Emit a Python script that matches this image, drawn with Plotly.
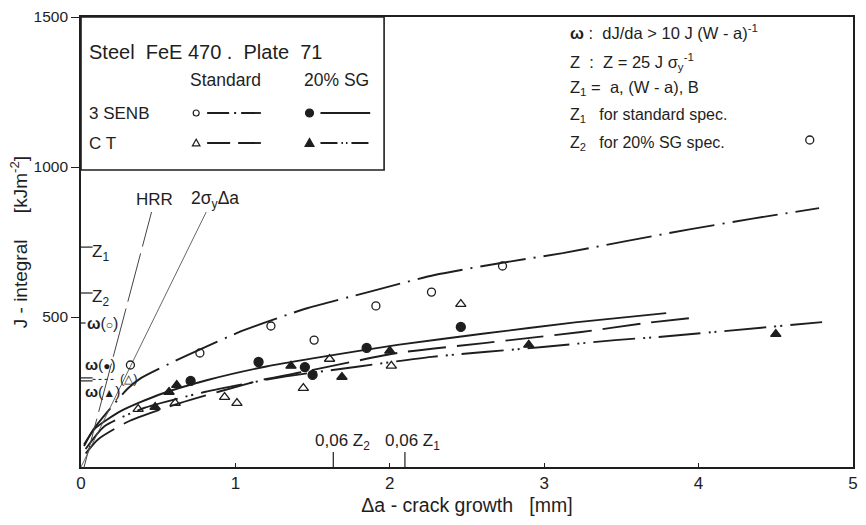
import plotly.graph_objects as go

# ---------------- data ----------------
senb_std_x = [0.32, 0.77, 1.23, 1.51, 1.91, 2.27, 2.73, 4.72]
senb_std_J = [340, 380, 470, 423, 537, 583, 670, 1090]
senb_sg_x = [0.71, 1.15, 1.45, 1.50, 1.85, 2.46]
senb_sg_J = [287, 350, 333, 307, 397, 467]
ct_std_x = [0.37, 0.61, 0.93, 1.01, 1.44, 1.61, 2.01, 2.46]
ct_std_J = [193, 213, 233, 213, 263, 360, 337, 543]
ct_sg_x = [0.48, 0.57, 0.62, 1.36, 1.69, 2.00, 2.90, 4.50]
ct_sg_J = [200, 250, 273, 337, 300, 387, 407, 443]

# fitted resistance curves
fit_senb_std_x = [0.02, 0.08, 0.30, 0.39, 0.69, 1.06, 1.47, 1.86, 2.29, 2.72, 3.12, 3.53, 3.95, 4.34, 4.78]
fit_senb_std_J = [70, 125, 260, 297, 373, 457, 530, 583, 640, 680, 713, 753, 793, 827, 863]
fit_senb_sg_x = [0.02, 0.09, 0.26, 0.50, 0.82, 1.20, 1.50, 2.05, 2.60, 3.20, 3.79]
fit_senb_sg_J = [75, 128, 187, 240, 290, 335, 362, 407, 444, 482, 513]
fit_ct_std_x = [0.03, 0.11, 0.30, 0.64, 1.17, 1.44, 2.05, 2.61, 3.24, 3.66, 3.96]
fit_ct_std_J = [45, 92, 150, 213, 290, 317, 380, 413, 450, 480, 497]
fit_ct_sg_x = [0.03, 0.15, 0.40, 0.80, 1.30, 1.80, 2.27, 2.99, 3.46, 3.73, 4.80]
fit_ct_sg_J = [60, 135, 195, 250, 300, 335, 367, 400, 423, 433, 483]

# blunting lines
hrr_x = [0.02, 0.457]
hrr_J = [0, 850]
blunt_x = [0.0, 0.811]
blunt_J = [0, 850]

# reference levels
z1_J = 733
z2_J = 580
omega_o_J = 480
omega_dot_J = 297
omega_tri_J = 292
omega_tri_f_J = 287
z2_006_x = 1.634
z1_006_x = 2.098

x_ticks = [0, 1, 2, 3, 4, 5]
y_ticks = [500, 1000, 1500]

FONT = "Liberation Sans, Arial, sans-serif"
INK = "#1e1e1e"
LW = 1.9

fig = go.Figure()

def curve(x, y, dash, w=LW, color=INK):
    fig.add_trace(go.Scatter(x=x, y=y, mode="lines", line=dict(color=color, width=w, dash=dash, shape="spline", smoothing=0.6),
                             showlegend=False, hoverinfo="skip"))

curve(fit_senb_std_x, fit_senb_std_J, "46px,8px,2px,8px")
curve(fit_senb_sg_x, fit_senb_sg_J, "solid")
curve(fit_ct_std_x, fit_ct_std_J, "38px,11px")
curve(fit_ct_sg_x, fit_ct_sg_J, "42px,8px,2px,4px,2px,8px")

fig.add_trace(go.Scatter(x=hrr_x, y=hrr_J, mode="lines", line=dict(color="#444", width=1, dash="50px,7px"),
                         showlegend=False, hoverinfo="skip"))
fig.add_trace(go.Scatter(x=blunt_x, y=blunt_J, mode="lines", line=dict(color="#555", width=0.9),
                         showlegend=False, hoverinfo="skip"))

def pts(x, y, sym, size=9):
    fig.add_trace(go.Scatter(x=x, y=y, mode="markers",
                             marker=dict(symbol=sym, size=size, color=INK, line=dict(color=INK, width=1.3)),
                             showlegend=False, hoverinfo="skip"))

pts(senb_std_x, senb_std_J, "circle-open", 8)
pts(senb_sg_x, senb_sg_J, "circle", 9)
pts(ct_std_x, ct_std_J, "triangle-up-open", 9)
pts(ct_sg_x, ct_sg_J, "triangle-up", 9)

shapes = []
ann = []

def text(x, y, s, size=17, xanchor="left", xref="x", yref="y", angle=0):
    ann.append(dict(x=x, y=y, xref=xref, yref=yref, text=s, showarrow=False, xanchor=xanchor, yanchor="middle",
                    borderpad=0, textangle=angle, font=dict(family=FONT, size=size, color=INK)))

def seg(x0, y0, x1, y1, w=1.3, dash="solid", color=INK):
    shapes.append(dict(type="line", xref="x", yref="y", x0=x0, y0=y0, x1=x1, y1=y1,
                       line=dict(color=color, width=w, dash=dash)))

SM = "<span style='font-size:12px'>{}</span>"

# ---- legend box ----
shapes.append(dict(type="rect", xref="x", yref="y", x0=0, x1=1.963, y0=990, y1=1500,
                   line=dict(color=INK, width=1.6), fillcolor="rgba(0,0,0,0)"))
text(0.045, 1383, "Steel  FeE 470 .  Plate  71", 20)
text(0.70, 1290, "Standard", 17.5)
text(1.44, 1290, "20% SG", 17.5)
text(0.045, 1180, "3 SENB", 17)
text(0.045, 1080, "C T", 17)

def circ(cx, cy, r, filled):
    shapes.append(dict(type="circle", xref="x", yref="y", x0=cx - r / 155.4, x1=cx + r / 155.4,
                       y0=cy - r / 0.3, y1=cy + r / 0.3, line=dict(color=INK, width=1.2),
                       fillcolor=INK if filled else "rgba(0,0,0,0)"))

def tri(cx, cy, r, filled):
    dx = r / 155.4
    dy = r / 0.3
    path = f"M {cx - dx},{cy - dy * 0.75} L {cx + dx},{cy - dy * 0.75} L {cx},{cy + dy} Z"
    shapes.append(dict(type="path", xref="x", yref="y", path=path, line=dict(color=INK, width=1.2),
                       fillcolor=INK if filled else "rgba(0,0,0,0)"))

circ(0.746, 1180, 3.0, False)
seg(0.817, 1180, 1.165, 1180, LW, "22px,5px,2px,5px")
circ(1.480, 1180, 4, True)
seg(1.551, 1180, 1.873, 1180, LW)
tri(0.746, 1080, 3.8, False)
seg(0.817, 1080, 1.165, 1080, LW, "23px,8px")
tri(1.480, 1080, 4.5, True)
seg(1.551, 1080, 1.873, 1080, LW, "17px,4px,1.5px,3px,1.5px,4px")

# ---- right-hand explanation ----
rx = 3.16
text(rx, 1450, "<b>ω</b> :  dJ/da > 10 J (W - a)<sup>-1</sup>", 16.5)
text(rx, 1350, "Z  :  Z = 25 J σ<sub>y</sub><sup>-1</sup>", 16.5)
text(rx, 1263, "Z<sub>1</sub> =  a, (W - a), B", 16.5)
text(rx, 1173, "Z<sub>1</sub>   for standard spec.", 16)
text(rx, 1080, "Z<sub>2</sub>   for 20% SG spec.", 16)

# ---- blunting line labels ----
text(0.475, 893, "HRR", 17, "center")
text(0.87, 893, "2σ<sub>y</sub>Δa", 17.5, "center")

# ---- left reference levels ----
seg(0, z1_J, 0.075, z1_J, 1.2)
text(0.065, z1_J - 18, "Z<sub>1</sub>", 17)
seg(0, z2_J, 0.075, z2_J, 1.2)
text(0.065, z2_J - 18, "Z<sub>2</sub>", 17)
seg(0, omega_o_J, 0.03, omega_o_J, 1.2)
text(0.03, omega_o_J, "<b>ω</b>(" + SM.format("○") + ")", 16)
seg(0, omega_dot_J, 0.075, omega_dot_J, 1.2)
seg(0, omega_tri_f_J, 0.075, omega_tri_f_J, 1.2)
seg(0.075, omega_tri_J, 0.22, omega_tri_J, 1, "dot")
text(0.02, omega_dot_J + 44, "<b>ω</b>(" + SM.format("●") + ")", 15.5)
text(0.245, omega_tri_J + 2, "(" + SM.format("△") + ")", 13)
text(0.02, omega_tri_f_J - 34, "<b>ω</b>(" + SM.format("▲") + ")", 15.5)

# ---- bottom 0,06 Z markers ----
seg(z2_006_x, 0, z2_006_x, 50, 1.2)
seg(z1_006_x, 0, z1_006_x, 50, 1.2)
text(z2_006_x + 0.06, 83, "0,06 Z<sub>2</sub>", 17, "center")
text(z1_006_x + 0.05, 83, "0,06 Z<sub>1</sub>", 17, "center")

# ---- y axis title (placed as in the original) ----
text(-0.08, 0.5, "J - integral     [kJm<sup>-2</sup>]", 19, "center", "paper", "paper", -90)

fig.update_layout(
    width=866, height=525,
    margin=dict(l=81, r=8, t=17, b=58),
    paper_bgcolor="white", plot_bgcolor="white",
    font=dict(family=FONT, size=17, color=INK),
    shapes=shapes, annotations=ann,
    showlegend=False,
)
fig.update_xaxes(range=[0, 5], tickvals=x_ticks, ticktext=[str(v) for v in x_ticks],
                 showgrid=False, zeroline=False, showline=True, linecolor=INK, linewidth=1.6, mirror=True,
                 ticks="inside", ticklen=4, tickcolor=INK, tickfont=dict(family=FONT, size=17, color=INK),
                 title=dict(text="Δa - crack growth   [mm]", font=dict(family=FONT, size=19.5, color=INK), standoff=6))
fig.update_yaxes(range=[0, 1500], tickvals=y_ticks, ticktext=[str(v) for v in y_ticks],
                 showgrid=False, zeroline=False, showline=True, linecolor=INK, linewidth=1.6, mirror=True,
                 ticks="outside", ticklen=8, tickcolor=INK, tickfont=dict(family=FONT, size=15.5, color=INK))

fig.write_html("out.html")
